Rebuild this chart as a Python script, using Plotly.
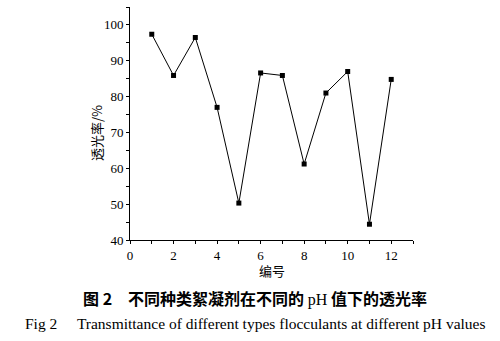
import plotly.graph_objects as go

sample_ids = [1, 2, 3, 4, 5, 6, 7, 8, 9, 10, 11, 12]
transmittance = [97.4, 85.9, 96.5, 77.0, 50.3, 86.6, 85.9, 61.2, 81.0, 87.0, 44.4, 84.8]
x_ticks = [0, 2, 4, 6, 8, 10, 12]
y_ticks = [40, 50, 60, 70, 80, 90, 100]

serif = "Liberation Serif, Times New Roman, serif"
cjk = "Noto Sans CJK SC"

fig = go.Figure()
fig.add_trace(go.Scatter(
    x=sample_ids, y=transmittance, mode="lines+markers",
    line=dict(color="black", width=1),
    marker=dict(symbol="square", size=5, color="black"),
    showlegend=False,
))

axis_common = dict(
    showgrid=False, zeroline=False, showline=True, linecolor="black", linewidth=1,
    ticks="outside", ticklen=3, tickcolor="black", tickwidth=1,
    tickfont=dict(family=serif, size=13, color="black"),
)
fig.update_xaxes(range=[0, 13], tickvals=x_ticks,
                 minor=dict(dtick=1, tick0=0, ticks="outside", ticklen=3, tickcolor="black"),
                 **axis_common)
fig.update_yaxes(range=[40, 105], tickvals=y_ticks,
                 minor=dict(dtick=5, tick0=40, ticks="outside", ticklen=3, tickcolor="black"),
                 **axis_common)

pl, pr, pt, pb = 130, 87, 7, 101
pw, ph = 500 - pl - pr, 341 - pt - pb


def ann(text, px, py, font, angle=0):
    return dict(text=text, x=(px - pl) / pw, y=1 - (py - pt) / ph,
                xref="paper", yref="paper", xanchor="center", yanchor="middle",
                showarrow=False, textangle=angle, font=font)


fig.update_layout(
    width=500, height=341,
    margin=dict(l=pl, r=pr, t=pt, b=pb),
    plot_bgcolor="white", paper_bgcolor="white",
    annotations=[
        ann("透光率/%", 96, 133, dict(family=cjk, size=13, color="black"), -90),
        ann("编号", 272, 270, dict(family=cjk, size=13, color="black")),
        ann("<b>图 2　不同种类絮凝剂在不同的 </b><span style='font-family:Liberation Serif'>pH</span><b> 值下的透光率</b>",
            255, 298, dict(family=cjk, size=16, color="black")),
        ann("Fig 2　 Transmittance of different types flocculants at different pH values",
            255, 323, dict(family=serif, size=15.5, color="black")),
    ],
)

fig.write_html("out.html")
